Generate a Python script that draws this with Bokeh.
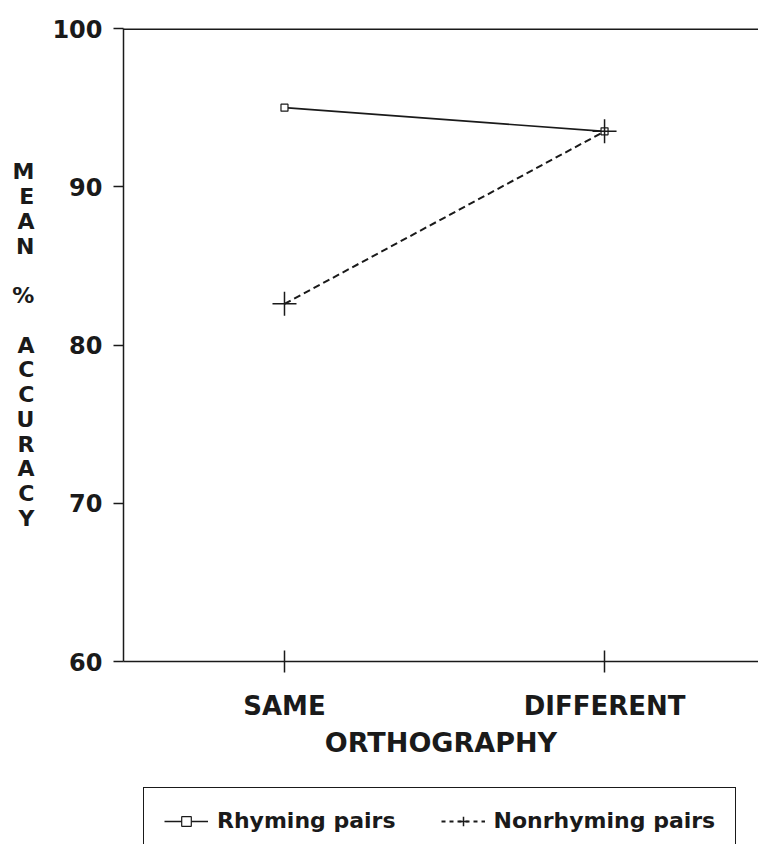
from bokeh.plotting import figure
from bokeh.layouts import column
from bokeh.models import FixedTicker, Span, Legend, LegendItem, Range1d
from bokeh.embed import file_html
from bokeh.resources import INLINE

# ---- data ----
categories = ["SAME", "DIFFERENT"]
rhyming = [95.0, 93.5]
nonrhyming = [82.6, 93.5]
y_ticks = [60, 70, 80, 90, 100]
y_title_words = ["MEAN", "%", "ACCURACY"]
x_label = "ORTHOGRAPHY"
series_names = ["Rhyming pairs", "Nonrhyming pairs"]

FONT = "DejaVu Sans"
INK = "#1a1a1a"

xs = list(range(len(categories)))

# ---------------- main chart ----------------
p = figure(width=758, height=786, output_backend="svg", toolbar_location=None,
           x_range=Range1d(-0.503, 1.481), y_range=Range1d(60, 100),
           min_border_left=123, min_border_top=28, min_border_right=0,
           min_border_bottom=125)
p.outline_line_color = None
p.grid.visible = False
p.background_fill_color = "white"
p.border_fill_color = "white"

# x axis
xa = p.xaxis[0]
xa.ticker = FixedTicker(ticks=xs)
xa.major_label_overrides = {i: c for i, c in enumerate(categories)}
xa.minor_tick_line_color = None
xa.major_tick_in = 11
xa.major_tick_out = 11
xa.major_tick_line_color = INK
xa.major_tick_line_width = 1.5
xa.axis_line_color = INK
xa.axis_line_width = 1.5
xa.major_label_text_font = FONT
xa.major_label_text_font_style = "bold"
xa.major_label_text_font_size = "26px"
xa.major_label_text_color = INK
xa.major_label_standoff = 18
xa.axis_label = x_label
xa.axis_label_text_font = FONT
xa.axis_label_text_font_style = "bold"
xa.axis_label_text_font_size = "27px"
xa.axis_label_text_color = INK
xa.axis_label_standoff = 3

# y axis
ya = p.yaxis[0]
ya.ticker = FixedTicker(ticks=y_ticks)
ya.minor_tick_line_color = None
ya.major_tick_in = 0
ya.major_tick_out = 10
ya.major_tick_line_color = INK
ya.major_tick_line_width = 1.5
ya.axis_line_color = INK
ya.axis_line_width = 1.5
ya.major_label_text_font = FONT
ya.major_label_text_font_style = "bold"
ya.major_label_text_font_size = "24px"
ya.major_label_text_color = INK
ya.major_label_standoff = 11
# stacked title: one letter per line, a blank line between words
ya.axis_label = "\n\n".join("\n".join(w) for w in y_title_words)
ya.axis_label_orientation = "horizontal"
ya.axis_label_text_font = FONT
ya.axis_label_text_font_style = "bold"
ya.axis_label_text_font_size = "22px"
ya.axis_label_text_color = INK
ya.axis_label_text_line_height = 0.99
ya.axis_label_standoff = 15

# top border of the plotting area
p.add_layout(Span(location=100, dimension="width", line_color=INK, line_width=3))

# series
r_line = p.line(xs, rhyming, line_color=INK, line_width=1.6)
r_mark = p.scatter(xs, rhyming, marker="square", size=7, fill_color="white",
                   line_color=INK, line_width=1.2)
n_line = p.line(xs, nonrhyming, line_color=INK, line_width=2, line_dash="7 4")
n_mark = p.scatter(xs, nonrhyming, marker="cross", size=24, line_color=INK, line_width=1.5)

# ---------------- legend strip (same series, drawn off-range; only the legend shows) ----------------
q = figure(width=758, height=58, output_backend="svg", toolbar_location=None,
           x_range=Range1d(0, 1), y_range=Range1d(0, 1),
           x_axis_type=None, y_axis_type=None, min_border=0)
q.outline_line_color = None
q.background_fill_color = "white"
q.border_fill_color = "white"

lr_line = q.line(xs, rhyming, line_color=INK, line_width=1.6)
lr_mark = q.scatter(xs, rhyming, marker="square", size=7, fill_color="white",
                    line_color=INK, line_width=1.2)
ln_line = q.line(xs, nonrhyming, line_color=INK, line_width=2, line_dash="4 4")
ln_mark = q.scatter(xs, nonrhyming, marker="cross", size=24, line_color=INK, line_width=1.5)

legend = Legend(items=[LegendItem(label=series_names[0], renderers=[lr_line, lr_mark]),
                       LegendItem(label=series_names[1], renderers=[ln_line, ln_mark])],
                orientation="horizontal", location=(20, -10), margin=0,
                glyph_width=44, glyph_height=24, label_standoff=9, spacing=45,
                padding=20, border_line_color=INK, border_line_width=1.5,
                border_line_alpha=1.0,
                label_text_font=FONT, label_text_font_style="bold",
                label_text_font_size="22px", label_text_color=INK,
                background_fill_color="white", background_fill_alpha=1.0)
q.add_layout(legend)

layout = column(p, q, spacing=0)
open("out.html", "w").write(file_html(layout, INLINE))
